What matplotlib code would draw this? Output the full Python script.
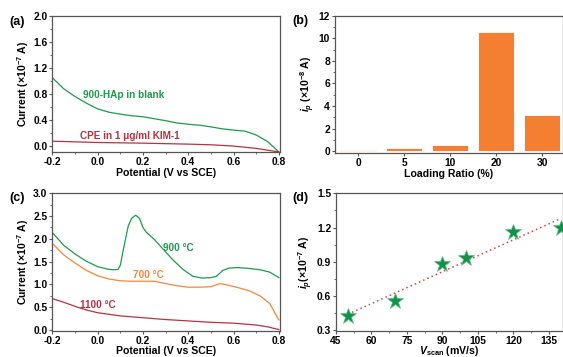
import numpy as np
import matplotlib
matplotlib.use("Agg")
import matplotlib.pyplot as plt
from matplotlib.ticker import MultipleLocator

plt.rcParams['font.family'] = ['Liberation Sans', 'DejaVu Sans']
plt.rcParams['font.weight'] = 'bold'
plt.rcParams['axes.unicode_minus'] = False
plt.rcParams['mathtext.fontset'] = 'custom'
plt.rcParams['mathtext.rm'] = 'Liberation Sans:bold'
plt.rcParams['mathtext.it'] = 'Liberation Sans:bold:italic'
plt.rcParams['mathtext.bf'] = 'Liberation Sans:bold'

GREEN = '#1f9a4c'
ORANGE = '#f5873a'
DARKRED = '#b5333f'
SPINE = '#555555'
TICK_FS = 7.4
LABEL_FS = 7.6
NOTE_FS = 7.2
PANEL_FS = 9

# (a) background scans
pot_a = [-0.2, -0.15, -0.1, -0.05, 0.0, 0.05, 0.1, 0.15, 0.2, 0.25, 0.3,
         0.35, 0.4, 0.45, 0.5, 0.55, 0.6, 0.65, 0.7, 0.75, 0.8]
hap_blank = [1.05, 0.88, 0.76, 0.66, 0.57, 0.52, 0.49, 0.465, 0.45, 0.42, 0.39,
             0.355, 0.335, 0.32, 0.295, 0.265, 0.245, 0.23, 0.17, 0.07, -0.09]
pot_cpe = [-0.2, 0.0, 0.2, 0.4, 0.5, 0.6, 0.7, 0.8]
cpe_kim = [0.075, 0.055, 0.045, 0.03, 0.02, 0.0, -0.035, -0.09]

# (b) peak current vs loading ratio
ratios = ['0', '5', '10', '20', '30']
ip_ratio = [0.1, 0.3, 0.56, 10.53, 3.17]

# (c) calcination temperature
pot_900 = [-0.2, -0.15, -0.1, -0.05, 0.0, 0.04, 0.07, 0.09, 0.10, 0.115, 0.135,
           0.15, 0.168, 0.185, 0.2, 0.216, 0.25, 0.29, 0.33, 0.377, 0.42, 0.46,
           0.5, 0.525, 0.553, 0.58, 0.62, 0.67, 0.72, 0.76, 0.8]
cur_900 = [2.14, 1.86, 1.67, 1.51, 1.39, 1.34, 1.32, 1.33, 1.42, 1.80, 2.28,
           2.45, 2.52, 2.45, 2.25, 2.14, 1.99, 1.77, 1.55, 1.33, 1.18, 1.14,
           1.15, 1.18, 1.31, 1.36, 1.37, 1.35, 1.32, 1.27, 1.15]
pot_700 = [-0.2, -0.15, -0.1, -0.05, 0.0, 0.05, 0.1, 0.15, 0.2, 0.25, 0.3,
           0.35, 0.4, 0.45, 0.5, 0.54, 0.58, 0.62, 0.67, 0.72, 0.76, 0.8]
cur_700 = [1.90, 1.65, 1.47, 1.31, 1.19, 1.12, 1.08, 1.07, 1.07, 1.07, 1.02,
           0.97, 0.94, 0.94, 0.95, 1.02, 0.98, 0.93, 0.86, 0.74, 0.58, 0.22]
pot_1100 = [-0.2, -0.15, -0.1, -0.05, 0.0, 0.1, 0.2, 0.3, 0.4, 0.5, 0.6,
            0.7, 0.75, 0.8]
cur_1100 = [0.69, 0.61, 0.52, 0.44, 0.38, 0.31, 0.27, 0.23, 0.20, 0.17, 0.15,
            0.11, 0.07, 0.01]

# (d) peak current vs scan rate
v_scan = [50, 70, 90, 100, 120, 140]
ip_scan = [0.43, 0.56, 0.88, 0.93, 1.165, 1.195]


def one_decimal(v, pos):
    return f'{v:.1f}'


def style_axes(ax):
    for sp in ax.spines.values():
        sp.set_color(SPINE)
        sp.set_linewidth(0.9)
    ax.tick_params(which='both', direction='out', color=SPINE, labelsize=TICK_FS,
                   top=False, right=False, pad=1)
    ax.tick_params(which='major', length=2.5, width=0.8)
    ax.tick_params(which='minor', length=1.5, width=0.6)
    for lab in ax.get_xticklabels() + ax.get_yticklabels():
        lab.set_fontweight('bold')


fig = plt.figure(figsize=(5.63, 3.57), dpi=100)

# ---- (a)
ax = fig.add_axes([0.0929, 0.574, 0.4044, 0.382])
ax.plot(pot_a, hap_blank, color=GREEN, lw=0.9)
ax.plot(pot_cpe, cpe_kim, color=DARKRED, lw=0.9)
ax.set_xlim(-0.2, 0.805)
ax.set_ylim(-0.092, 2.0)
ax.xaxis.set_major_locator(MultipleLocator(0.2))
ax.xaxis.set_minor_locator(MultipleLocator(0.1))
ax.yaxis.set_major_locator(MultipleLocator(0.4))
ax.yaxis.set_minor_locator(MultipleLocator(0.2))
ax.xaxis.set_major_formatter(plt.FuncFormatter(one_decimal))
ax.yaxis.set_major_formatter(plt.FuncFormatter(one_decimal))
style_axes(ax)
ax.set_xlabel('Potential (V vs SCE)', fontsize=LABEL_FS, fontweight='bold', labelpad=1)
ax.set_ylabel('Current (×10$^{-7}$ A)', fontsize=LABEL_FS, fontweight='bold', labelpad=1.5)
ax.text(-0.066, 0.79, '900-HAp in blank', color=GREEN, fontsize=NOTE_FS,
        fontweight='bold', va='center')
ax.text(-0.078, 0.155, 'CPE in 1 μg/ml KIM-1', color=DARKRED, fontsize=NOTE_FS,
        fontweight='bold', va='center')
fig.text(0.016, 0.937, '(a)', fontsize=PANEL_FS, fontweight='bold', va='center')

# ---- (b)
ax = fig.add_axes([0.595, 0.571, 0.405, 0.385])
ax.bar(range(len(ratios)), ip_ratio, width=0.79, color='#f47f30',
       edgecolor='white', linewidth=0.6)
ax.set_xlim(-0.5, 4.45)
ax.set_ylim(-0.18, 12)
ax.set_xticks(range(len(ratios)))
ax.set_xticklabels(ratios)
ax.yaxis.set_major_locator(MultipleLocator(2))
ax.yaxis.set_minor_locator(MultipleLocator(1))
style_axes(ax)
ax.set_xlabel('Loading Ratio (%)', fontsize=LABEL_FS, fontweight='bold', labelpad=1)
ax.set_ylabel('$i_p$ (×10$^{-8}$ A)', fontsize=LABEL_FS, fontweight='bold', labelpad=1.5)
fig.text(0.52, 0.94, '(b)', fontsize=PANEL_FS, fontweight='bold', va='center')

# ---- (c)
ax = fig.add_axes([0.0929, 0.073, 0.4044, 0.3855])
ax.plot(pot_900, cur_900, color=GREEN, lw=0.9)
ax.plot(pot_700, cur_700, color=ORANGE, lw=0.9)
ax.plot(pot_1100, cur_1100, color=DARKRED, lw=0.9)
ax.set_xlim(-0.2, 0.805)
ax.set_ylim(-0.02, 3.0)
ax.xaxis.set_major_locator(MultipleLocator(0.2))
ax.xaxis.set_minor_locator(MultipleLocator(0.1))
ax.yaxis.set_major_locator(MultipleLocator(0.5))
ax.yaxis.set_minor_locator(MultipleLocator(0.25))
ax.xaxis.set_major_formatter(plt.FuncFormatter(one_decimal))
ax.yaxis.set_major_formatter(plt.FuncFormatter(one_decimal))
style_axes(ax)
ax.set_xlabel('Potential (V vs SCE)', fontsize=LABEL_FS, fontweight='bold', labelpad=0)
ax.set_ylabel('Current (×10$^{-7}$ A)', fontsize=LABEL_FS, fontweight='bold', labelpad=1.5)
ax.text(0.29, 1.8, '900 °C', color=GREEN, fontsize=NOTE_FS, fontweight='bold', va='center')
ax.text(0.157, 1.21, '700 °C', color=ORANGE, fontsize=NOTE_FS, fontweight='bold', va='center')
ax.text(-0.078, 0.54, '1100 °C', color=DARKRED, fontsize=NOTE_FS, fontweight='bold', va='center')
fig.text(0.016, 0.445, '(c)', fontsize=PANEL_FS, fontweight='bold', va='center')

# ---- (d)
ax = fig.add_axes([0.5968, 0.073, 0.4032, 0.3855])
fit = np.polyfit(v_scan, ip_scan, 1)
v_fit = np.array([v_scan[0], v_scan[-1]])
ax.plot(v_fit, np.polyval(fit, v_fit), color='#d9414e', ls=(0, (1, 2)), lw=1.1)
ax.plot(v_scan, ip_scan, ls='none', marker='*', ms=12, color='#13904a',
        mec='#5fbf80', mew=0.5, clip_on=False)
ax.set_xlim(45, 141)
ax.set_ylim(0.295, 1.5)
ax.xaxis.set_major_locator(MultipleLocator(15))
ax.xaxis.set_minor_locator(MultipleLocator(7.5))
ax.yaxis.set_major_locator(MultipleLocator(0.3))
ax.yaxis.set_minor_locator(MultipleLocator(0.15))
ax.yaxis.set_major_formatter(plt.FuncFormatter(one_decimal))
style_axes(ax)
ax.set_xlabel('$V_{\\rm scan}$ (mV/s)', fontsize=LABEL_FS, fontweight='bold', labelpad=-1)
ax.set_ylabel('$i_p$(×10$^{-7}$ A)', fontsize=LABEL_FS, fontweight='bold', labelpad=1.5)
fig.text(0.52, 0.445, '(d)', fontsize=PANEL_FS, fontweight='bold', va='center')

fig.savefig('out.png', dpi=100)
